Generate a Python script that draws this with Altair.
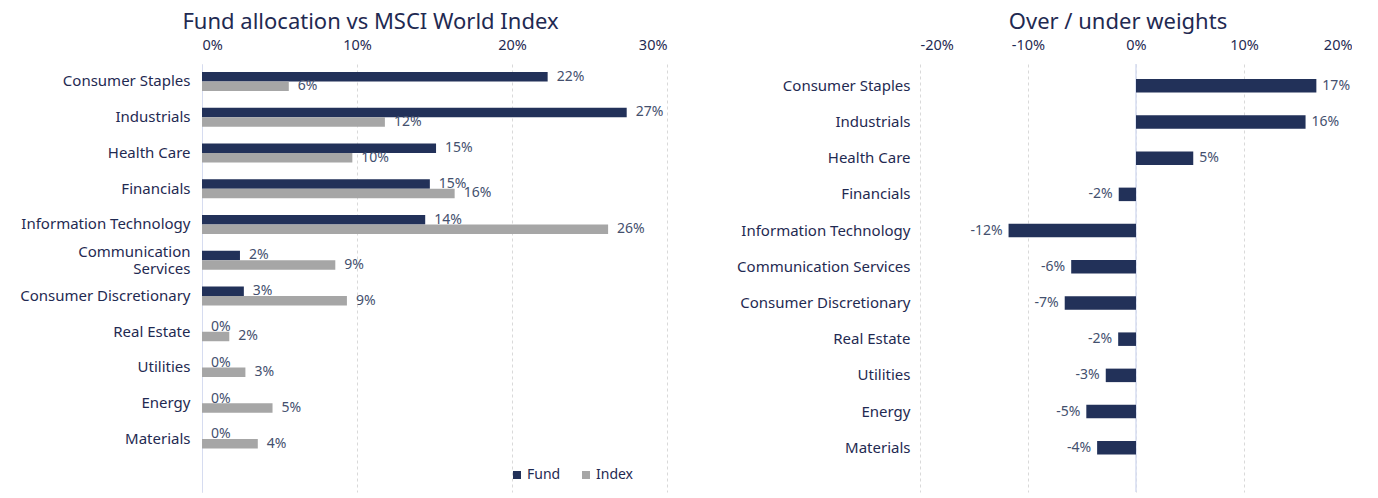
import altair as alt
import pandas as pd

categories = ["Consumer Staples", "Industrials", "Health Care", "Financials",
              "Information Technology", "Communication Services",
              "Consumer Discretionary", "Real Estate", "Utilities", "Energy", "Materials"]
fund = [22.3, 27.4, 15.1, 14.7, 14.4, 2.45, 2.7, 0, 0, 0, 0]
index = [5.6, 11.8, 9.7, 16.3, 26.2, 8.6, 9.35, 1.76, 2.8, 4.55, 3.6]
active = [16.7, 15.7, 5.3, -1.6, -11.8, -6.0, -6.6, -1.65, -2.8, -4.6, -3.6]
series = ["Fund", "Index"]
left_ticks = [0, 10, 20, 30]
right_ticks = [-20, -10, 0, 10, 20]

FONT = "Noto Sans"
TEXT = "#1f2a52"
VAL = "#44506e"
NAVY = "#223159"
GREY = "#a6a6a6"
GRID = "#d9d9d9"
ZERO = "#d6dcf0"
LBL = 15
TICK = 14.5
VSZ = 14
TSZ = 22

rows = []
for c, f, i in zip(categories, fund, index):
    rows.append({"category": c, "series": "Fund", "value": f})
    rows.append({"category": c, "series": "Index", "value": i})
left_df = pd.DataFrame(rows)
right_df = pd.DataFrame({"category": categories, "active": active})
zero_df = pd.DataFrame({"v": [0]})

label_calc = "(datum.value < 0 ? '-' : '') + format(abs(datum.value), '.0f') + '%'"

yl = alt.Y("category:N",
           scale=alt.Scale(domain=categories, paddingInner=0.469, paddingOuter=0.72, align=0.155),
           axis=alt.Axis(title=None, labelFontSize=LBL, labelColor=TEXT, labelPadding=12,
                         ticks=False, domain=True, domainColor=ZERO, labelFont=FONT,
                         labelLineHeight=17, minExtent=194,
                         labelOffset={"condition": {"test": "datum.value == 'Communication Services'",
                                                    "value": -8}, "value": 0},
                         labelExpr="datum.label == 'Communication Services' ? ['Communication', 'Services'] : datum.label"))
yoff = alt.YOffset("series:N", scale=alt.Scale(domain=series, paddingInner=0, paddingOuter=0))
xl = alt.X("value:Q", scale=alt.Scale(domain=[0, 30], nice=False),
           axis=alt.Axis(orient="top", values=left_ticks, labelExpr="datum.value + '%'",
                         grid=True, gridDash=[3, 3], gridColor=GRID, domain=False, ticks=False,
                         labelFontSize=TICK, labelPadding=12, labelColor=TEXT, labelFont=FONT,
                         title=None))

left_base = alt.Chart(left_df).transform_calculate(label=label_calc)
left_bars = left_base.mark_bar().encode(
    y=yl, yOffset=yoff, x=xl,
    color=alt.Color("series:N", scale=alt.Scale(domain=series, range=[NAVY, GREY]),
                    legend=alt.Legend(orient="none", legendX=308, legendY=404, direction="horizontal",
                                      title=None, symbolType="square", symbolSize=64,
                                      symbolStrokeWidth=0, labelFontSize=14, labelColor=TEXT,
                                      labelFont=FONT, columnPadding=18, labelOffset=3)),
)
left_text = left_base.mark_text(align="left", dx=9, fontSize=VSZ, color=VAL, font=FONT).encode(
    y=alt.Y("category:N", scale=alt.Scale(domain=categories)), yOffset=yoff,
    x=alt.X("value:Q"), text="label:N")

left = alt.layer(left_bars, left_text).properties(
    width=465, height=428,
    title=alt.TitleParams("Fund allocation vs MSCI World Index", fontSize=TSZ, color=TEXT, font=FONT,
                          fontWeight="normal", anchor="middle", frame="group", dx=-64, offset=3))

yr = alt.Y("category:N",
           scale=alt.Scale(domain=categories, paddingInner=0.627, paddingOuter=0.725, align=0.286),
           axis=alt.Axis(title=None, labelFontSize=LBL, labelColor=TEXT, labelPadding=10,
                         ticks=False, domain=False, labelFont=FONT, minExtent=197))
xr = alt.X("active:Q", scale=alt.Scale(domain=[-20, 20], nice=False),
           axis=alt.Axis(orient="top", values=right_ticks,
                         labelExpr="(datum.value < 0 ? '-' : '') + abs(datum.value) + '%'",
                         grid=True, gridDash=[3, 3], gridColor=GRID, domain=False, ticks=False,
                         labelFontSize=TICK, labelPadding=12, labelColor=TEXT, labelFont=FONT,
                         title=None))

right_base = alt.Chart(right_df).transform_calculate(
    label="(datum.active < 0 ? '-' : '') + format(abs(datum.active), '.0f') + '%'")
right_bars = right_base.mark_bar(color=NAVY).encode(y=yr, x=xr)
zero_rule = alt.Chart(zero_df).mark_rule(color=ZERO, strokeWidth=1.5).encode(x=alt.X("v:Q"))
pos_text = right_base.transform_filter("datum.active >= 0").mark_text(
    align="left", dx=6, fontSize=VSZ, color=VAL, font=FONT).encode(
    y=alt.Y("category:N", scale=alt.Scale(domain=categories)), x="active:Q", text="label:N")
neg_text = right_base.transform_filter("datum.active < 0").mark_text(
    align="right", dx=-6, fontSize=VSZ, color=VAL, font=FONT).encode(
    y=alt.Y("category:N", scale=alt.Scale(domain=categories)), x="active:Q", text="label:N")

right = alt.layer(zero_rule, right_bars, pos_text, neg_text).properties(
    width=432, height=428,
    title=alt.TitleParams("Over / under weights", fontSize=TSZ, color=TEXT, font=FONT,
                          fontWeight="normal", anchor="middle", frame="group", dx=-18, offset=3))

chart = alt.hconcat(left, right, spacing=56).properties(
    padding={"top": 3, "left": 0, "right": 0, "bottom": 0}
).configure(font=FONT, view=alt.ViewConfig(stroke=None))

chart.save("out.html", embed_options={"renderer": "svg", "actions": False})
